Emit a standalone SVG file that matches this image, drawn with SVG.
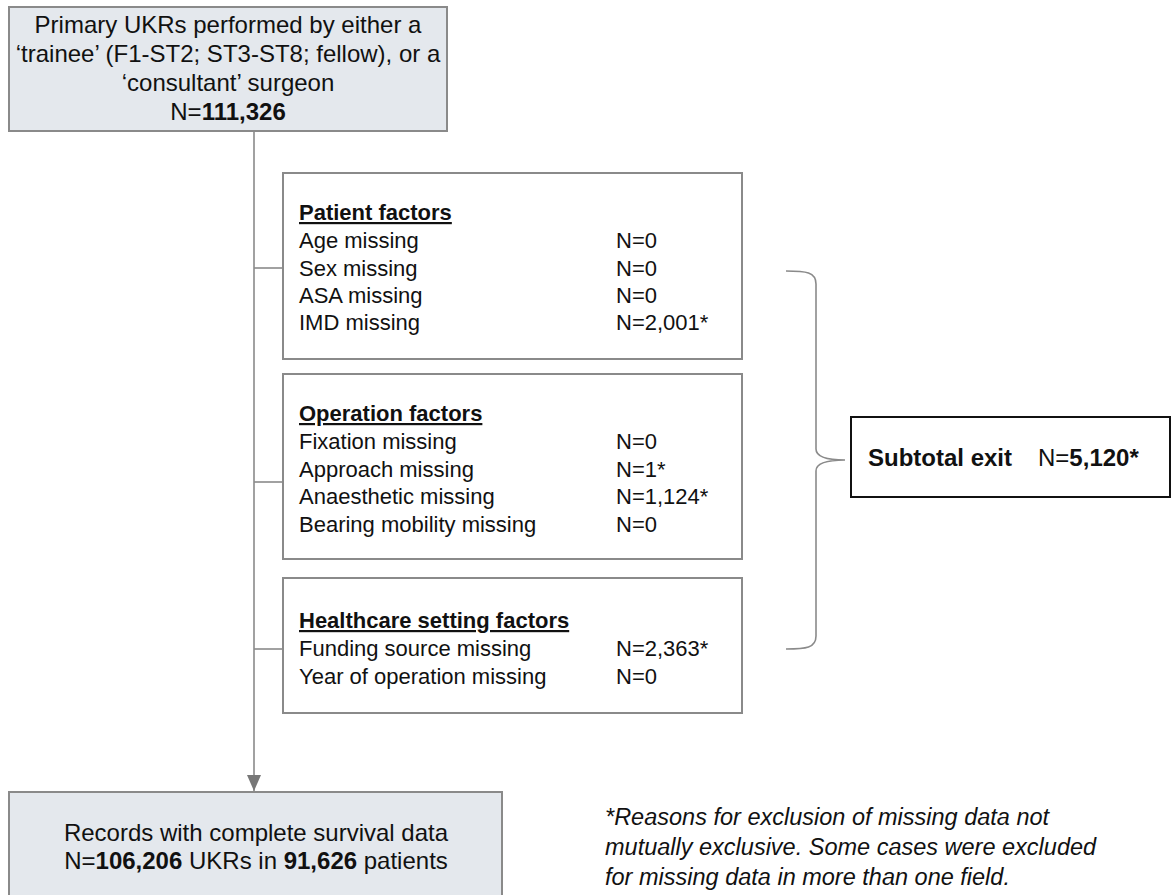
<svg xmlns="http://www.w3.org/2000/svg" width="1174" height="895" viewBox="0 0 1174 895">
<style>
text{font-family:"Liberation Sans",Arial,sans-serif;fill:#111}
.shaded{fill:#e4e8ed;stroke:#8a8a8a;stroke-width:2}
.factor{fill:#fff;stroke:#8a8a8a;stroke-width:2}
.sub{fill:#fff;stroke:#111;stroke-width:2}
.conn{fill:none;stroke:#8a8a8a;stroke-width:1.6}
.big{font-size:24px}
.mid{font-size:24px}
.fx{font-size:22px}
.b{font-weight:bold}
.hd{font-weight:bold;text-decoration:underline}
.note{font-size:23.5px;font-style:italic}
</style>
<defs>
<marker id="arr" viewBox="0 0 16 14" refX="16" refY="7" markerWidth="16" markerHeight="14" markerUnits="userSpaceOnUse" orient="auto">
<path d="M0,0 L16,7 L0,14 Z" fill="#777"/>
</marker>
</defs>
<g id="connectors">
<line class="conn" x1="254" y1="131" x2="254" y2="791" marker-end="url(#arr)"/>
<line class="conn" x1="254" y1="268" x2="283" y2="268"/>
<line class="conn" x1="254" y1="482" x2="283" y2="482"/>
<line class="conn" x1="254" y1="649" x2="283" y2="649"/>
<path class="conn" d="M786,271 C806,271 816,272 816,284 L816,449 C816,456 826,460 845,460 C826,460 816,464 816,471 L816,636 C816,648 806,649 786,649"/>
</g>
<g id="start">
<rect class="shaded" x="9" y="7" width="438" height="124"/>
<text class="big" text-anchor="middle" x="228" y="33">Primary UKRs performed by either a</text>
<text class="big" text-anchor="middle" x="228" y="62">‘trainee’ (F1-ST2; ST3-ST8; fellow), or a</text>
<text class="big" text-anchor="middle" x="228" y="91">‘consultant’ surgeon</text>
<text class="big" text-anchor="middle" x="228" y="120">N=<tspan class="b">111,326</tspan></text>
</g>
<g id="patient">
<rect class="factor" x="283" y="173" width="459" height="186"/>
<text class="fx hd" x="299" y="220">Patient factors</text>
<text class="fx" x="299" y="248">Age missing</text>
<text class="fx" x="616" y="248">N=0</text>
<text class="fx" x="299" y="276">Sex missing</text>
<text class="fx" x="616" y="276">N=0</text>
<text class="fx" x="299" y="303">ASA missing</text>
<text class="fx" x="616" y="303">N=0</text>
<text class="fx" x="299" y="330">IMD missing</text>
<text class="fx" x="616" y="330">N=2,001*</text>
</g>
<g id="operation">
<rect class="factor" x="283" y="374" width="459" height="185"/>
<text class="fx hd" x="299" y="421">Operation factors</text>
<text class="fx" x="299" y="449">Fixation missing</text>
<text class="fx" x="616" y="449">N=0</text>
<text class="fx" x="299" y="477">Approach missing</text>
<text class="fx" x="616" y="477">N=1*</text>
<text class="fx" x="299" y="504">Anaesthetic missing</text>
<text class="fx" x="616" y="504">N=1,124*</text>
<text class="fx" x="299" y="532">Bearing mobility missing</text>
<text class="fx" x="616" y="532">N=0</text>
</g>
<g id="healthcare">
<rect class="factor" x="283" y="578" width="459" height="135"/>
<text class="fx hd" x="299" y="628">Healthcare setting factors</text>
<text class="fx" x="299" y="656">Funding source missing</text>
<text class="fx" x="616" y="656">N=2,363*</text>
<text class="fx" x="299" y="684">Year of operation missing</text>
<text class="fx" x="616" y="684">N=0</text>
</g>
<g id="subtotal">
<rect class="sub" x="851" y="417" width="319" height="80"/>
<text class="mid" x="868" y="466"><tspan class="b">Subtotal exit</tspan><tspan x="1038">N=</tspan><tspan class="b">5,120*</tspan></text>
</g>
<g id="result">
<rect class="shaded" x="9" y="792" width="493" height="110"/>
<text class="mid" text-anchor="middle" x="256" y="841">Records with complete survival data</text>
<text class="mid" text-anchor="middle" x="256" y="869">N=<tspan class="b">106,206</tspan> UKRs in <tspan class="b">91,626</tspan> patients</text>
</g>
<g id="footnote">
<text class="note" x="605" y="825">*Reasons for exclusion of missing data not</text>
<text class="note" x="605" y="855">mutually exclusive. Some cases were excluded</text>
<text class="note" x="605" y="885">for missing data in more than one field.</text>
</g>
</svg>
